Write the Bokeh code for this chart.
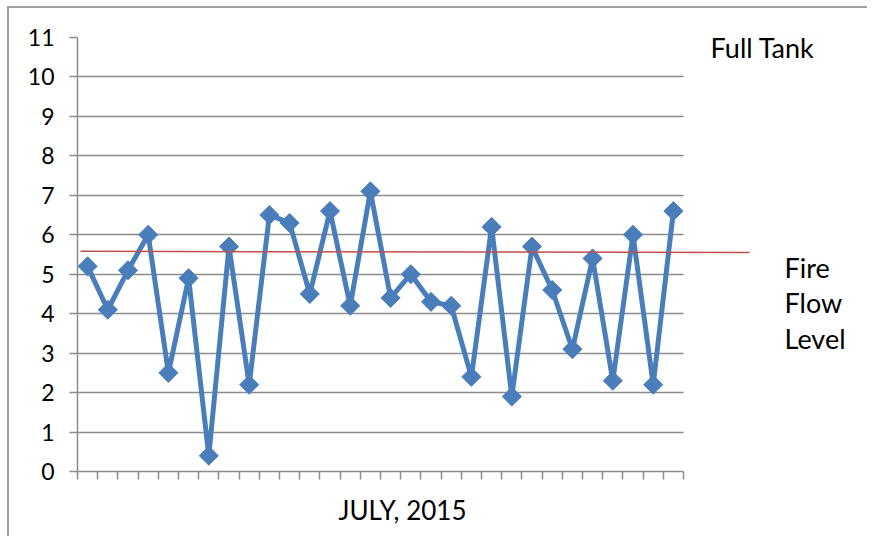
import math
from bokeh.plotting import figure
from bokeh.models import FixedTicker, Label, Title, ColumnDataSource
from bokeh.embed import file_html
from bokeh.resources import INLINE

# ---- data ----
days = list(range(1, 31))
water_level = [5.2, 4.1, 5.1, 6.0, 2.5, 4.9, 0.4, 5.7, 2.2, 6.5,
               6.3, 4.5, 6.6, 4.2, 7.1, 4.4, 5.0, 4.3, 4.2, 2.4,
               6.2, 1.9, 5.7, 4.6, 3.1, 5.4, 2.3, 6.0, 2.2, 6.6]
y_ticks = list(range(0, 12))
x_ticks = list(range(0, 31))
fire_flow_x = [0.15, 33.27]
fire_flow_y = [5.58, 5.55]
x_title = "JULY, 2015"
full_tank_text = "Full Tank"
fire_flow_text = ["Fire", "Flow", "Level"]

W, H = 860, 530
LEFT, TOP, BOTTOM = 68, 29, 464
FONT = "Lato"
GRID = "#8c8c8c"
BLUE = "#4a7ebb"
n_days = len(days)
x_end = n_days * (W - LEFT) / 606.0

p = figure(width=W, height=H, output_backend="svg", toolbar_location=None,
           x_range=(0, x_end), y_range=(0, 11),
           min_border_left=LEFT, min_border_right=0,
           min_border_top=TOP, min_border_bottom=H - BOTTOM)
p.outline_line_color = None
p.background_fill_color = "white"
p.border_fill_color = "white"
p.styles = {"margin-left": "7px", "margin-top": "6px",
            "border-left": "2px solid #a0a0a0", "border-top": "2px solid #a0a0a0"}

# grid
p.xgrid.visible = False
p.ygrid.grid_line_color = GRID
p.ygrid.grid_line_width = 1.5
p.ygrid.cross_bounds = (0, n_days)

# y axis
p.yaxis.ticker = FixedTicker(ticks=y_ticks)
p.yaxis.minor_tick_line_color = None
p.yaxis.major_tick_in = 0
p.yaxis.major_tick_out = 8
p.yaxis.major_tick_line_color = GRID
p.yaxis.major_tick_line_width = 1.5
p.yaxis.axis_line_color = GRID
p.yaxis.axis_line_width = 1.5
p.yaxis.major_label_text_font = FONT
p.yaxis.major_label_text_font_size = "23px"
p.yaxis.major_label_text_color = "black"
p.yaxis.major_label_standoff = 15

# x axis: tick marks between days, no tick labels
p.xaxis.bounds = (0, n_days)
p.xaxis.ticker = FixedTicker(ticks=[], minor_ticks=x_ticks)
p.xaxis.major_tick_line_color = None
p.xaxis.minor_tick_in = 0
p.xaxis.minor_tick_out = 8
p.xaxis.minor_tick_line_color = GRID
p.xaxis.minor_tick_line_width = 1.5
p.xaxis.axis_line_color = GRID
p.xaxis.axis_line_width = 1.5

# x title (below the axis, shifted to match the original)
p.add_layout(Title(text=x_title, align="left", offset=261, standoff=25,
                   text_font=FONT, text_font_style="normal",
                   text_font_size="26px", text_color="black"), "below")

# series
src = ColumnDataSource(dict(x=[d - 0.5 for d in days], y=water_level))
p.line("x", "y", source=src, line_color=BLUE, line_width=5)
p.scatter("x", "y", source=src, marker="square", angle=math.pi / 4,
          size=13.5, fill_color=BLUE, line_color=BLUE)

# fire flow level line
p.line(fire_flow_x, fire_flow_y, line_color="#c0504d", line_width=1.5)

# texts
p.add_layout(Label(x=31.34, y=10.74, text=full_tank_text, text_font=FONT,
                   text_font_size="27px", text_color="black",
                   text_baseline="alphabetic"))
for t, yy in zip(fire_flow_text, [5.17, 4.28, 3.38]):
    p.add_layout(Label(x=35.0, y=yy, text=t, text_font=FONT,
                       text_font_size="27px", text_color="black",
                       text_baseline="alphabetic"))

open("out.html", "w").write(file_html(p, INLINE))
